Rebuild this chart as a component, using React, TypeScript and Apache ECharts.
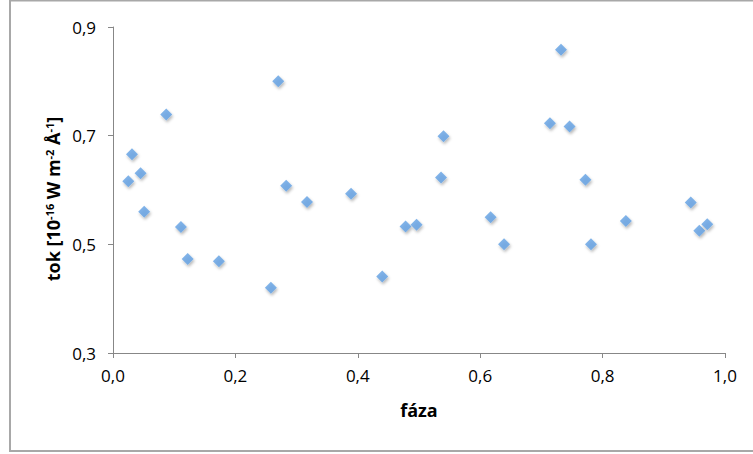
import React, { useEffect, useRef } from "react";
import * as echarts from "echarts";

const phase: number[] = [
  0.025, 0.031, 0.045, 0.051, 0.087, 0.111, 0.122, 0.173, 0.258, 0.27,
  0.283, 0.317, 0.389, 0.44, 0.478, 0.496, 0.536, 0.54, 0.617, 0.639,
  0.714, 0.732, 0.746, 0.772, 0.781, 0.838, 0.944, 0.958, 0.971,
];
const flux: number[] = [
  0.616, 0.666, 0.631, 0.56, 0.739, 0.532, 0.473, 0.469, 0.42, 0.8,
  0.608, 0.578, 0.593, 0.441, 0.533, 0.536, 0.623, 0.699, 0.55, 0.5,
  0.723, 0.858, 0.717, 0.619, 0.5, 0.543, 0.577, 0.525, 0.537,
];

const xTitle = "fáza";
const yTitle = "tok [10{sup|-16} W m{sup|-2} Å{sup|-1}]";

const FONT = "'Open Sans', 'Noto Sans', sans-serif";

export default function App() {
  const ref = useRef<HTMLDivElement>(null);
  useEffect(() => {
    if (!ref.current) return;
    const chart = echarts.init(ref.current, undefined, { renderer: "svg" });
    const fmt = (v: number) => v.toFixed(1).replace(".", ",");
    chart.setOption({
      animation: false,
      backgroundColor: "#ffffff",
      textStyle: { fontFamily: FONT },
      grid: { left: 113, right: 28, top: 27, bottom: 101, containLabel: false },
      graphic: [
        {
          type: "rect",
          shape: { x: 10, y: 0.5, width: 800, height: 450.5 },
          style: { fill: "none", stroke: "#A8A8A8", lineWidth: 2 },
          silent: true,
          z: 0,
        },
        {
          type: "text",
          x: 53,
          y: 199,
          rotation: Math.PI / 2,
          silent: true,
          style: {
            text: yTitle,
            align: "center",
            verticalAlign: "middle",
            fontFamily: FONT,
            fontWeight: "bold",
            fontSize: 18,
            fill: "#000",
            rich: {
              sup: {
                fontFamily: FONT,
                fontWeight: "bold",
                fontSize: 11,
                fill: "#000",
                verticalAlign: "top",
                lineHeight: 16,
              },
            },
          },
        },
      ],
      xAxis: {
        type: "value",
        min: 0,
        max: 1,
        interval: 0.2,
        name: xTitle,
        nameLocation: "middle",
        nameGap: 48,
        nameTextStyle: { fontFamily: FONT, fontWeight: "bold", fontSize: 18, color: "#000" },
        axisLine: { show: true, onZero: false, lineStyle: { color: "#878787", width: 1 } },
        axisTick: { show: true, inside: false, length: 5, lineStyle: { color: "#878787" } },
        axisLabel: { formatter: fmt, fontFamily: FONT, fontSize: 17, color: "#000", margin: 14 },
        splitLine: { show: false },
      },
      yAxis: {
        type: "value",
        min: 0.3,
        max: 0.9,
        interval: 0.2,
        axisLine: { show: true, onZero: false, lineStyle: { color: "#878787", width: 1 } },
        axisTick: { show: true, inside: false, length: 5, lineStyle: { color: "#878787" } },
        axisLabel: { formatter: fmt, fontFamily: FONT, fontSize: 17, color: "#000", margin: 17 },
        splitLine: { show: false },
      },
      series: [
        {
          type: "scatter",
          data: phase.map((p, i) => [p, flux[i]]),
          symbol: "diamond",
          symbolSize: 12,
          itemStyle: {
            color: "#62A0E4",
            shadowColor: "rgba(0,0,0,0.35)",
            shadowBlur: 3,
            shadowOffsetX: 1,
            shadowOffsetY: 2,
          },
        },
      ],
    });
    return () => chart.dispose();
  }, []);
  return (
    <div
      ref={ref}
      style={{ position: "fixed", left: 0, top: 0, width: 753, height: 454 }}
    />
  );
}
